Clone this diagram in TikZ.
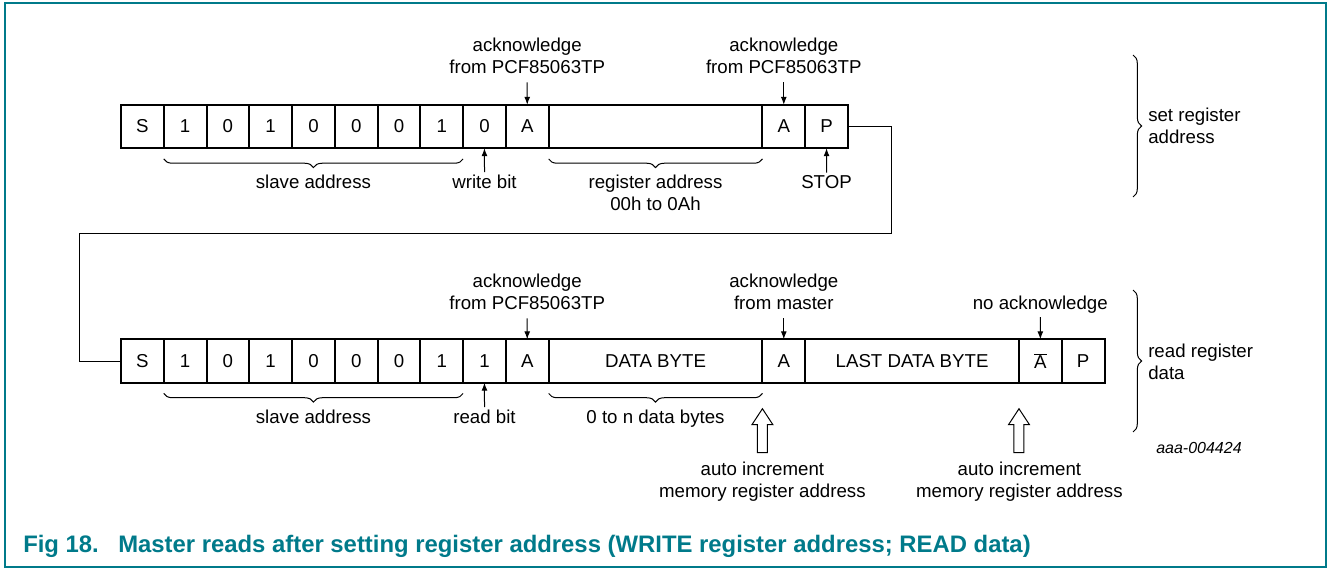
\documentclass[tikz,border=0pt]{standalone}
\usepackage{fontspec}
\setmainfont{Liberation Sans}
\usetikzlibrary{positioning,arrows.meta,decorations.pathreplacing}
\definecolor{nxpteal}{RGB}{0,122,138}

\tikzset{
  cell/.style={draw, line width=1.5pt, minimum width=32.07pt, minimum height=32.6pt,
    inner sep=0pt, outer sep=0pt, font=\fontsize{14}{16.5}\selectfont},
  wide/.style={cell, minimum width=160.35pt},
  lbl/.style={font=\fontsize{14}{16.5}\selectfont, align=center, inner sep=0pt, anchor=base},
  sidelbl/.style={lbl, align=left, anchor=base west},
  ptr/.style={-{Latex[length=6pt,width=4.5pt]}, line width=0.75pt},
  brc/.style={decorate, decoration={brace, amplitude=6.5pt}, line width=0.75pt},
  bracedown/.style={brc, decoration={mirror}},
  incarrow/.style={draw, line width=0.75pt, fill=white},
}

\begin{document}
\begin{tikzpicture}[x=0.75pt,y=-0.75pt]
\useasboundingbox (0,0) rectangle (1328,568);
\draw[nxpteal, line width=0.9pt] (5,3) rectangle (1326,567);

% write: set register address
\node[cell] (tS) at (142.4,126.5) {S};
\foreach \b [count=\i] in {1,0,1,0,0,0,1}
  \node[cell] (t\i) at (142.4+42.76*\i,126.5) {\b};
\node[cell, right=0pt of t7] (tW) {0};
\node[cell, right=0pt of tW] (tA1) {A};
\node[wide, right=0pt of tA1] (tReg) {};
\node[cell, right=0pt of tReg] (tA2) {A};
\node[cell, right=0pt of tA2] (tP) {P};

\node[lbl] (ackT1) at (527.2,73) {acknowledge\\from PCF85063TP};
\node[lbl] (ackT2) at (783.8,73) {acknowledge\\from PCF85063TP};
\draw[ptr, shorten <=6.75pt] (ackT1.south) -- (tA1.north);
\draw[ptr, shorten <=6.75pt] (ackT2.south) -- (tA2.north);

\draw[bracedown] ([yshift=-8pt]t1.south west) -- ([yshift=-8pt]t7.south east);
\draw[bracedown] ([yshift=-8pt]tReg.south west) -- ([yshift=-8pt]tReg.south east);
\node[lbl] (saT) at (313.4,188) {slave address};
\node[lbl] (wrT) at (484.5,188) {write bit};
\node[lbl] (regT) at (655.5,210) {register address\\00h to 0Ah};
\node[lbl] (stopT) at (826.5,188) {STOP};
\draw[ptr, shorten <=1.5pt] (wrT.north) -- (tW.south);
\draw[ptr, shorten <=1.5pt] (stopT.north) -- (tP.south);

% read: register data
\node[cell] (bS) at (142.4,361) {S};
\foreach \b [count=\i] in {1,0,1,0,0,0,1}
  \node[cell] (b\i) at (142.4+42.76*\i,361) {\b};
\node[cell, right=0pt of b7] (bR) {1};
\node[cell, right=0pt of bR] (bA1) {A};
\node[wide, right=0pt of bA1] (bData) {DATA BYTE};
\node[cell, right=0pt of bData] (bA2) {A};
\node[wide, right=0pt of bA2] (bLast) {LAST DATA BYTE};
\node[cell, right=0pt of bLast] (bNA) {$\overline{\mbox{A}}$};
\node[cell, right=0pt of bNA] (bP) {P};

% link between the two frames
\coordinate (turnR) at (891,233);
\coordinate (turnL) at (79,233);
\draw[line width=0.75pt] (tP.east) -| (turnR) -- (turnL) |- (bS.west);

\node[lbl] (ackB1) at (527.2,309) {acknowledge\\from PCF85063TP};
\node[lbl] (ackB2) at (783.8,309) {acknowledge\\from master};
\node[lbl] (ackB3) at (1040.3,309) {no acknowledge};
\draw[ptr, shorten <=6.75pt] (ackB1.south) -- (bA1.north);
\draw[ptr, shorten <=6.75pt] (ackB2.south) -- (bA2.north);
\draw[ptr, shorten <=3pt] (ackB3.south) -- (bNA.north);

\draw[bracedown] ([yshift=-8pt]b1.south west) -- ([yshift=-8pt]b7.south east);
\draw[bracedown] ([yshift=-8pt]bData.south west) -- ([yshift=-8pt]bData.south east);
\node[lbl] (saB) at (313.4,423) {slave address};
\node[lbl] (rdB) at (484.5,423) {read bit};
\node[lbl] (cntB) at (655.5,423) {0 to n data bytes};
\draw[ptr, shorten <=1.5pt] (rdB.north) -- (bR.south);

% auto increment arrows
\coordinate (inc1) at ([yshift=-19.5pt]bData.south east);
\coordinate (inc2) at ([yshift=-19.5pt]bLast.south east);
\foreach \c in {inc1,inc2}
  \draw[incarrow] (\c) -- ++(10.5,16) -- ++(-5.5,0) -- ++(0,28) -- ++(-10,0)
    -- ++(0,-28) -- ++(-5.5,0) -- cycle;
\node[lbl] (incL1) at (762.4,497) {auto increment\\memory register address};
\node[lbl] (incL2) at (1019.4,497) {auto increment\\memory register address};

% side braces
\draw[brc] (1133,55) -- (1133,197);
\draw[brc] (1133,290) -- (1133,432);
\node[sidelbl] (setL) at (1148,143) {set register\\address};
\node[sidelbl] (readL) at (1148,379) {read register\\data};

\node[anchor=base west, inner sep=0pt, font=\fontsize{12}{14}\selectfont\itshape] (fig) at (1156,453) {aaa-004424};

\node[anchor=base west, inner sep=0pt, text=nxpteal, font=\fontsize{17.9}{20}\selectfont\bfseries]
  (cap) at (23,552) {\makebox[71.25pt][l]{Fig 18.}Master reads after setting register address (WRITE register address; READ data)};
\end{tikzpicture}
\end{document}
